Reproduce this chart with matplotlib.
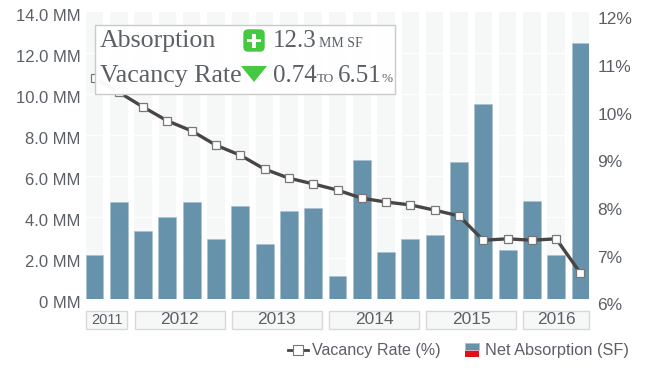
import numpy as np
import matplotlib
matplotlib.use('Agg')
import matplotlib.pyplot as plt
from matplotlib.patches import Rectangle, FancyBboxPatch, Polygon
from matplotlib.transforms import blended_transform_factory, ScaledTranslation

absorption = [2.15, 4.7, 3.28, 3.96, 4.7, 2.89, 4.5, 2.64, 4.26, 4.4, 1.08,
              6.75, 2.25, 2.89, 3.08, 6.66, 9.5, 2.35, 4.75, 2.15, 12.48]
vacancy = [10.62, 10.32, 10.01, 9.72, 9.51, 9.21, 9.0, 8.71, 8.52, 8.4, 8.27,
           8.1, 8.02, 7.96, 7.85, 7.73, 7.22, 7.25, 7.22, 7.25, 6.53]
years = ['2011', '2012', '2013', '2014', '2015', '2016']
year_counts = [2, 4, 4, 4, 4, 3]
left_ticks = [0, 2, 4, 6, 8, 10, 12, 14]
left_labels = ['0 MM', '2.0 MM', '4.0 MM', '6.0 MM', '8.0 MM', '10.0 MM', '12.0 MM', '14.0 MM']
right_ticks = [6, 7, 8, 9, 10, 11, 12]
right_labels = ['6%', '7%', '8%', '9%', '10%', '11%', '12%']

SANS = 'Liberation Sans'
SERIF = 'Liberation Serif'
GREY = '#5c6066'
BLUE = '#6692ab'
GREEN = '#44c940'

fig = plt.figure(figsize=(6.5, 3.7), dpi=100)
ax = fig.add_axes([86 / 650, (370 - 298.5) / 370, 503 / 650, 286.5 / 370])
ax.set_xlim(-0.35, 20.35)
ax.set_ylim(0, 14)
x = np.arange(len(absorption))

# background stripes, white gridlines cut them
ax.bar(x, [14] * len(x), width=0.72, color='#f6f8f8', zorder=1)
for t in left_ticks[1:-1]:
    ax.axhline(t, color='white', lw=1, zorder=2)
ax.bar(x, absorption, width=0.74, color=BLUE, edgecolor='#a9c0ce', linewidth=0.4, zorder=3)

ax.set_yticks(left_ticks)
ax.set_yticklabels(left_labels, fontsize=12, family=SANS, color=GREY, va='center')
ax.tick_params(axis='y', length=0, pad=4)
shift = ScaledTranslation(0, -4.5 / 100, fig.dpi_scale_trans)
for lab in ax.get_yticklabels():
    lab.set_transform(lab.get_transform() + shift)
ax.set_xticks([])
for s in ax.spines.values():
    s.set_visible(False)

ax2 = ax.twinx()
ax2.set_ylim(6, 12)
ax2.plot(x, vacancy, color='#4a4545', lw=2.4, marker='s', ms=6.2, mfc='white',
         mec='#77777a', mew=0.9, zorder=5)
ax2.set_yticks(right_ticks)
ax2.set_yticklabels(right_labels, fontsize=12.5, family=SANS, color=GREY, va='top')
ax2.tick_params(axis='y', length=0, pad=6)
ax2.set_xticks([])
for s in ax2.spines.values():
    s.set_visible(False)

# year boxes under the bars
tr = blended_transform_factory(ax.transData, fig.transFigure)
start = 0
for year, n in zip(years, year_counts):
    x0, x1 = start - 0.35, start + n - 1 + 0.35
    ax.add_patch(Rectangle((x0, (370 - 329) / 370), x1 - x0, 18 / 370, transform=tr,
                           fc='#f6f8f8', ec='#d8d8d8', lw=1, clip_on=False))
    ax.text((x0 + x1) / 2, (370 - 320) / 370, year, transform=tr, ha='center', va='center',
            family=SANS, fontsize=12.5 if n > 2 else 10.5, color=GREY)
    start += n

# overlay in pixel coordinates for the tooltip and legend
ov = fig.add_axes([0, 0, 1, 1], zorder=10)
ov.set_xlim(0, 650)
ov.set_ylim(370, 0)
ov.axis('off')
ov.patch.set_alpha(0)

ov.add_patch(Rectangle((94.5, 24.5), 300.5, 69.5, fc='white', ec='#c8c8c8', lw=1, alpha=0.96))
ov.text(100, 47, 'Absorption', family=SERIF, fontsize=18.6, color=GREY, va='baseline')
ov.text(100, 82, 'Vacancy Rate', family=SERIF, fontsize=18.6, color=GREY, va='baseline')
ov.add_patch(FancyBboxPatch((244, 30), 20, 21, boxstyle='round,pad=0,rounding_size=4',
                            fc=GREEN, ec=GREEN, lw=1))
ov.add_patch(Rectangle((252.2, 33.5), 3.6, 14, fc='white', ec='none'))
ov.add_patch(Rectangle((247, 38.7), 14, 3.6, fc='white', ec='none'))
ov.add_patch(Polygon([[241, 66], [267, 66], [254, 82]], closed=True, fc=GREEN, ec='none'))

ov.text(273, 47, '12.3', family=SERIF, fontsize=18, color=GREY, va='baseline')
ov.text(319, 47, 'MM SF', family=SERIF, fontsize=10, color=GREY, va='baseline')
ov.text(273, 82, '0.74', family=SERIF, fontsize=18, color=GREY, va='baseline')
ov.text(317, 82, 'TO', family=SERIF, fontsize=9.5, color=GREY, va='baseline')
ov.text(338, 82, '6.51', family=SERIF, fontsize=18, color=GREY, va='baseline')
ov.text(381, 82, '%', family=SERIF, fontsize=9.5, color=GREY, va='baseline')

# legend
ov.plot([288, 308], [349.5, 349.5], color='#4a4545', lw=2)
ov.plot([298], [349.5], marker='s', ms=6.5, mfc='white', mec='#77777a', mew=0.8)
ov.text(312, 350, 'Vacancy Rate (%)', family=SANS, fontsize=11.6, color=GREY, va='center')
ov.add_patch(Rectangle((465, 342.5), 14, 7, fc=BLUE, ec='#e8a0a8', lw=0.5))
ov.add_patch(Rectangle((465, 351), 14, 6, fc='#e01018', ec='none'))
ov.text(485, 350, 'Net Absorption (SF)', family=SANS, fontsize=11.8, color=GREY, va='center')

fig.savefig('out.png', dpi=100)
